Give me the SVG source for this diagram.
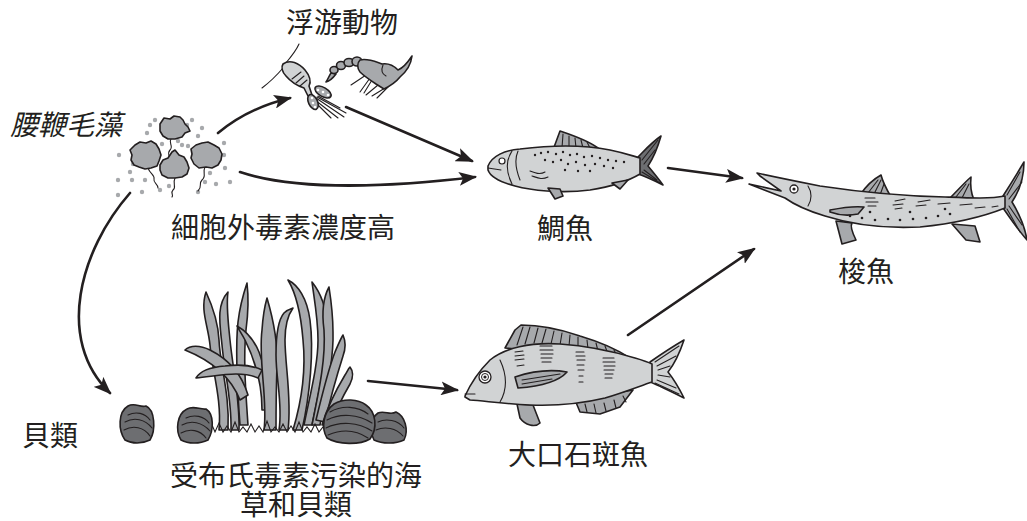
<svg xmlns="http://www.w3.org/2000/svg" width="1027" height="521" viewBox="0 0 1027 521">
<defs>
<style>
.t{font-family:"Noto Sans CJK TC","Noto Sans CJK SC",sans-serif;font-size:28px;fill:#231f20;text-anchor:middle}
.it{font-style:italic;text-anchor:start}
.ln{fill:none;stroke:#231f20;stroke-width:2.6;stroke-linecap:round}
.o{stroke:#231f20;stroke-width:1.6;stroke-linejoin:round}
.lt{fill:#d1d3d4}
.md{fill:#a7a9ac}
.dk{fill:#6d6e71}
.h{fill:none;stroke:#231f20;stroke-width:1.1;stroke-linecap:round}
.dot{fill:#a7a9ac}
.sp{fill:#231f20}
</style>
<marker id="ah" markerWidth="18" markerHeight="14" refX="16" refY="7" orient="auto" markerUnits="userSpaceOnUse">
<path d="M0,0 L18,7 L0,14 L4,7 Z" fill="#231f20"/>
</marker>
</defs>
<rect width="1027" height="521" fill="#ffffff"/>

<g id="connectors">
<path class="ln" d="M218,133 Q248,108 290,98" marker-end="url(#ah)"/>
<path class="ln" d="M346,107 L472,161" marker-end="url(#ah)"/>
<path class="ln" d="M240,172 C300,192 400,186 475,177" marker-end="url(#ah)"/>
<path class="ln" d="M130,193 C80,250 55,340 110,393" marker-end="url(#ah)"/>
<path class="ln" d="M368,381 L457,390" marker-end="url(#ah)"/>
<path class="ln" d="M668,168 L742,178" marker-end="url(#ah)"/>
<path class="ln" d="M628,335 L754,249" marker-end="url(#ah)"/>
</g>

<g id="dinoflagellates">
<g class="dot">
<circle cx="150" cy="125" r="2.2"/><circle cx="155" cy="120" r="2.2"/><circle cx="147" cy="133" r="2.2"/>
<circle cx="192" cy="120" r="2.2"/><circle cx="202" cy="128" r="2.2"/><circle cx="198" cy="136" r="2.2"/>
<circle cx="188" cy="146" r="2.2"/><circle cx="182" cy="145" r="2.2"/><circle cx="162" cy="144" r="2.2"/>
<circle cx="224" cy="143" r="2.2"/><circle cx="119" cy="155" r="2.2"/><circle cx="130" cy="172" r="2.2"/>
<circle cx="132" cy="180" r="2.2"/><circle cx="145" cy="180" r="2.2"/><circle cx="118" cy="180" r="2.2"/>
<circle cx="118" cy="195" r="2.2"/><circle cx="142" cy="192" r="2.2"/><circle cx="169" cy="186" r="2.2"/>
<circle cx="210" cy="173" r="2.2"/><circle cx="216" cy="184" r="2.2"/><circle cx="230" cy="182" r="2.2"/>
<circle cx="225" cy="168" r="2.2"/><circle cx="205" cy="182" r="2.2"/><circle cx="198" cy="192" r="2.2"/>
<circle cx="178" cy="141" r="2.2"/><circle cx="133" cy="164" r="2.2"/><circle cx="187" cy="125" r="2.2"/>
<circle cx="224" cy="155" r="2.2"/><circle cx="160" cy="190" r="2.2"/>
</g>
<path class="h" d="M171,139 C168,143 174,146 170,150 C166,154 172,157 168,162"/>
<path class="h" d="M148,168 C150,174 155,175 154,179 C153,183 158,184 158,188"/>
<path class="h" d="M175,178 C172,184 177,187 173,190 C170,193 174,195 172,197"/>
<path class="h" d="M205,167 C202,173 207,176 202,180 C198,184 203,186 198,191"/>
<path class="md o" d="M160,124 L164,118 L170,119 L174,116 L180,117 L183,120 L185,124 L188,127 L190,131 L185,133 L182,137 L175,139 L168,139 L163,136 L160,131 Z"/>
<path class="md o" d="M130,150 L135,145 L140,142 L146,143 L151,141 L156,144 L159,149 L161,155 L159,161 L157,166 L151,168 L145,169 L139,167 L134,165 L131,160 L132,155 Z"/>
<path class="md o" d="M191,149 L196,145 L202,143 L208,142 L214,145 L219,148 L222,154 L221,160 L218,165 L212,168 L206,167 L199,168 L194,164 L191,158 L192,154 Z"/>
<path class="md o" d="M160,165 L163,160 L168,158 L172,152 L175,150 L179,155 L184,157 L187,162 L189,168 L187,174 L182,177 L175,178 L168,178 L162,175 L160,170 Z"/>
</g>

<g id="zooplankton">
<path class="h" d="M285,64 C291,57 296,51 299,44"/>
<path class="h" d="M283,68 C277,75 270,82 262,88"/>
<path class="h" d="M316,98 L344,117 M317,97 L346,113 M315,100 L338,118 M314,101 L331,118 M318,96 L340,108"/>
<path class="lt o" d="M283,64 C290,59 299,63 305,70 C310,76 311,82 309,86 L312,95 L308,96 L304,88 C298,86 291,82 286,76 C282,72 281,67 283,64 Z"/>
<path class="h" d="M292,79 L301,72 M296,83 L304,76 M300,86 L307,80"/>
<ellipse class="md o" cx="323" cy="92" rx="9" ry="4.5" transform="rotate(30 323 92)"/>
<ellipse class="md o" cx="313" cy="102" rx="4.5" ry="8" transform="rotate(-25 313 102)"/>
<g fill="#ffffff"><circle cx="318" cy="90" r="1.3"/><circle cx="323" cy="92" r="1.3"/><circle cx="328" cy="95" r="1.3"/><circle cx="312" cy="98" r="1.3"/><circle cx="313" cy="103" r="1.3"/><circle cx="315" cy="107" r="1.3"/></g>
<path class="h" d="M370,78 L360,92 M366,75 L351,85 M372,80 L364,93 M378,85 L366,95 M385,88 L372,96 M388,87 L377,98"/>
<path class="md o" d="M331,73 C329,76 328,79 326,82 C330,81 333,78 336,74 Z"/>
<ellipse class="md o" cx="334" cy="70" rx="4" ry="3.5"/>
<ellipse class="md o" cx="341" cy="65.5" rx="4.5" ry="4"/>
<ellipse class="md o" cx="349" cy="62.5" rx="5" ry="4"/>
<ellipse class="md o" cx="357" cy="61.5" rx="5" ry="4.5"/>
<path class="md o" d="M360,60 C368,58 376,62 382,64 C388,63 394,66 398,70 C403,68 408,62 412,56 C411,64 406,72 400,77 C396,82 390,86 384,89 L376,84 C370,80 364,76 360,72 C357,68 357,63 360,60 Z"/>
<path class="h" d="M383,65 C381,70 382,74 386,76"/>
</g>

<g id="sea-bream">
<path class="md o" d="M553,150 L560,131 C575,136 590,142 598,148 Z"/>
<path class="h" d="M563,134 L562,148 M569,136 L569,148 M575,138 L576,148 M581,140 L583,148 M587,142 L590,148"/>
<path class="dk o" d="M638,157 C645,150 652,142 661,136 C657,150 652,160 648,166 C653,172 658,178 663,185 C653,180 644,176 638,174 Z"/>
<path class="h" d="M642,160 L658,140 M644,164 L655,150 M644,170 L657,180 M642,172 L660,183"/>
<path class="lt o" d="M488,166 C492,156 505,150 520,149 C545,146 580,144 610,150 C625,153 633,156 640,158 L640,174 C630,180 615,186 590,190 C560,194 530,190 515,186 C500,182 490,176 488,170 Z"/>
<path class="md o" d="M548,188 L555,199 L563,196 L560,189 Z"/>
<path class="md o" d="M612,183 L620,189 L628,180 Z"/>
<path class="h" d="M488,168 L501,170 M512,151 C506,160 506,172 512,184 M518,151 C514,160 516,170 520,180 M530,171 C535,173 540,175 545,172 M532,176 C538,178 542,180 548,177"/>
<circle cx="502" cy="161" r="3" fill="#ffffff" stroke="#231f20" stroke-width="1.2"/>
<g class="sp">
<circle cx="535" cy="155" r="1.2"/><circle cx="541" cy="153" r="1.2"/><circle cx="548" cy="152" r="1.2"/><circle cx="556" cy="154" r="1.2"/><circle cx="563" cy="152" r="1.2"/><circle cx="570" cy="155" r="1.2"/><circle cx="577" cy="154" r="1.2"/><circle cx="584" cy="157" r="1.2"/><circle cx="592" cy="156" r="1.2"/><circle cx="600" cy="158" r="1.2"/><circle cx="608" cy="160" r="1.2"/><circle cx="616" cy="161" r="1.2"/><circle cx="624" cy="162" r="1.2"/>
<circle cx="545" cy="160" r="1.2"/><circle cx="553" cy="162" r="1.2"/><circle cx="561" cy="160" r="1.2"/><circle cx="568" cy="164" r="1.2"/><circle cx="576" cy="162" r="1.2"/><circle cx="585" cy="165" r="1.2"/><circle cx="595" cy="164" r="1.2"/><circle cx="604" cy="166" r="1.2"/><circle cx="613" cy="168" r="1.2"/><circle cx="565" cy="170" r="1.2"/><circle cx="578" cy="171" r="1.2"/><circle cx="590" cy="171" r="1.2"/>
</g>
</g>

<g id="barracuda">
<path class="md o" d="M860,195 C866,186 872,180 881,175 C883,183 887,190 891,197 Z"/>
<path class="md o" d="M950,198 C958,190 964,183 971,177 C970,186 971,193 974,200 Z"/>
<path class="h" d="M868,193 L878,180 M874,194 L881,180 M880,195 L884,184 M956,197 L966,184 M962,198 L969,184"/>
<path class="md o" d="M1003,196 C1010,185 1018,172 1024,162 C1024,175 1020,190 1012,202 C1020,215 1025,228 1027,240 C1018,230 1010,218 1003,208 Z"/>
<path class="h" d="M1007,195 L1020,172 M1009,199 L1022,182 M1009,206 L1022,225 M1007,209 L1020,232"/>
<path class="md o" d="M836,221 L842,244 L856,240 C852,232 850,226 852,223 Z"/>
<path class="md o" d="M952,224 L966,240 L980,242 L975,226 Z"/>
<path class="lt o" d="M757,173 C780,178 800,182 820,186 C860,192 900,196 945,197 C970,198 990,199 1005,196 L1005,208 C985,216 960,223 920,227 C880,229 850,224 825,216 C805,210 792,203 785,198 L749,184 L781,191 L760,176 Z"/>
<path class="md o" d="M830,210 C845,207 855,206 864,207 L858,214 C848,216 838,215 830,212 Z"/>
<circle cx="794" cy="189" r="4" fill="#ffffff" stroke="#231f20" stroke-width="1.3"/>
<circle cx="794" cy="189" r="1.6" fill="#231f20"/>
<path class="h" d="M808,186 C812,192 812,200 808,206"/>
<path class="h" d="M865,198 L875,198 M866,202 L878,202 M868,206 L876,206 M895,201 L905,199 M893,205 L903,204 M895,209 L902,208 M918,202 L930,200 M916,206 L926,205 M938,204 L950,203 M960,205 L972,204 M975,208 L985,207 M992,207 L998,206"/>
<g class="sp">
<circle cx="850" cy="216" r="1.3"/><circle cx="862" cy="218" r="1.3"/><circle cx="875" cy="220" r="1.3"/><circle cx="888" cy="219" r="1.3"/><circle cx="900" cy="220" r="1.3"/><circle cx="913" cy="219" r="1.3"/><circle cx="926" cy="218" r="1.3"/><circle cx="938" cy="216" r="1.3"/><circle cx="950" cy="214" r="1.3"/><circle cx="870" cy="212" r="1.3"/><circle cx="910" cy="212" r="1.3"/><circle cx="945" cy="209" r="1.3"/>
</g>
</g>

<g id="grouper">
<path class="md o" d="M505,348 L515,330 L521,325 C540,325 560,329 580,336 C600,342 615,348 630,358 Z"/>
<path class="h" d="M523,327 L517,345 M530,327 L525,344 M538,328 L534,343 M546,329 L542,343 M554,331 L551,344 M562,333 L560,345 M570,335 L569,346 M578,337 L578,347 M587,340 L588,349 M596,343 L598,351 M605,346 L608,354 M614,350 L617,356"/>
<path class="lt o" d="M650,362 C660,355 672,347 684,340 C680,352 676,362 668,372 C676,382 680,390 684,398 C672,392 660,386 650,382 Z"/>
<path class="h" d="M655,362 L679,346 M657,366 L676,356 M658,370 L670,366 M658,375 L670,377 M657,380 L676,388 M655,383 L679,394"/>
<path class="md o" d="M575,400 L580,412 L600,414 L620,407 L633,390 Z"/>
<path class="h" d="M585,404 L587,412 M594,404 L596,413 M604,403 L606,411 M614,400 L616,408 M623,396 L626,402"/>
<path class="md o" d="M517,404 L520,418 C525,425 535,428 540,423 L533,405 Z"/>
<path class="lt o" d="M465,396 C470,385 478,372 490,360 C505,348 530,342 560,344 C590,346 615,352 635,358 C642,360 648,362 652,364 L652,382 C640,386 625,392 605,398 C580,404 555,406 530,405 C505,404 485,401 470,400 L465,397 Z"/>
<path class="md o" d="M515,377 C530,372 550,369 567,372 C560,380 545,386 518,388 Z"/>
<path class="h" d="M522,380 L560,374 M522,384 L552,379"/>
<path class="h" d="M465,394 L475,394 M500,360 C507,375 507,390 500,402"/>
<circle cx="485" cy="377" r="6" fill="#ffffff" stroke="#231f20" stroke-width="1.3"/>
<circle cx="485" cy="377" r="3.5" fill="none" stroke="#231f20" stroke-width="1"/>
<circle cx="485" cy="377" r="1.6" fill="#231f20"/>
<path class="h" d="M515,352 L523,351 M515,356 L524,355 M515,360 L524,359 M517,366 L524,365 M540,346 L552,346 M540,350 L553,350 M541,354 L553,354 M541,358 L552,358 M542,362 L551,362 M576,352 L584,352 M576,356 L585,356 M577,360 L585,360 M577,365 L584,365 M578,370 L584,370 M579,376 L583,376 M579,382 L583,382 M603,358 L614,358 M603,362 L615,362 M604,366 L615,366 M604,370 L614,370 M605,374 L613,374 M605,378 L612,378"/>
</g>

<g id="seagrass-shellfish">
<g class="md o">
<path d="M219,430 C222,400 212,370 210,345 C208,325 200,310 206,292 C212,305 218,320 219,340 C220,365 230,395 228,430 Z"/>
<path d="M231,430 C232,400 224,370 222,345 C220,325 216,305 228,292 C226,305 228,320 230,340 C233,370 240,400 239,430 Z"/>
<path d="M240,425 C237,385 235,350 238,322 C240,305 244,292 247,283 C249,300 248,315 246,330 C243,360 246,395 248,425 Z"/>
<path d="M240,400 C232,380 215,362 185,350 C190,345 200,345 210,350 C230,360 242,375 248,395 Z"/>
<path d="M262,410 C262,385 255,360 245,340 C242,334 239,330 237,326 C246,331 254,340 259,352 C266,370 270,390 270,410 Z"/>
<path d="M258,378 C240,370 218,376 196,378 C200,371 212,367 225,366 C240,364 252,365 262,370 Z"/>
<path d="M264,430 C268,400 258,360 262,330 C263,315 265,305 267,298 C272,315 278,340 277,365 C276,395 276,415 276,430 Z"/>
<path d="M279,430 C283,405 276,380 276,355 C276,335 278,320 284,313 C287,310 290,309 293,308 C288,315 285,325 285,340 C285,365 292,400 288,430 Z"/>
<path d="M293,430 C302,400 306,370 303,340 C301,315 297,295 288,280 C298,285 307,298 310,320 C314,350 310,395 302,430 Z"/>
<path d="M304,425 C310,395 318,365 318,340 C318,318 314,298 312,282 C320,292 326,305 327,325 C328,355 318,395 312,425 Z"/>
<path d="M312,425 C318,395 326,360 324,330 C322,315 322,300 329,287 C331,300 333,315 333,332 C334,360 325,398 320,425 Z"/>
<path d="M316,420 C322,395 328,370 335,352 C338,345 340,340 343,335 C346,342 346,348 343,356 C337,375 330,400 325,422 Z"/>
<path d="M322,425 C328,405 336,390 345,375 C347,372 348,369 350,367 C354,372 353,378 350,384 C343,396 336,410 331,425 Z"/>
</g>
<path class="h" d="M208,432 L212,425 L215,432 L219,423 L223,432 L227,426 L231,432 L235,422 L239,432 L243,427 L247,432 L251,424 L255,432 L259,426 L263,432 L267,421 L271,432 L275,427 L279,432 L283,424 L287,432 L291,426 L295,432 L299,422 L303,432 L307,427 L311,432 L315,424 L319,432 L323,427 L327,432"/>
<g class="dk o">
<path d="M125,440 C118,430 118,412 128,406 C135,402 140,408 146,406 C155,410 156,430 150,440 C142,444 132,444 125,440 Z"/>
<path d="M181,440 C175,430 177,414 187,409 C194,405 200,410 206,409 C214,414 214,430 208,440 C200,444 188,444 181,440 Z"/>
<path d="M374,440 C369,430 371,418 378,413 C385,410 390,416 396,412 C405,416 409,430 404,440 C396,444 382,444 374,440 Z"/>
<path d="M327,438 C321,428 323,412 334,404 C344,398 358,399 366,405 C376,412 378,428 370,439 C360,445 338,445 327,438 Z"/>
</g>
<path class="h" d="M128,415 C136,411 145,413 150,420 M125,422 C134,417 145,419 152,428 M124,430 C133,425 144,427 150,436 M186,418 C194,414 204,416 209,423 M182,425 C191,420 202,422 210,431 M181,433 C190,428 200,430 206,438 M378,422 C386,418 398,420 404,428 M376,430 C385,426 396,428 403,436 M330,412 C342,405 358,406 368,414 M327,420 C340,413 358,414 372,423 M326,428 C340,421 358,422 372,431 M328,435 C342,429 356,430 368,438"/>
</g>

<g id="labels">
<text class="t" x="342" y="33">浮游動物</text>
<text class="t it" x="10" y="135">腰鞭毛藻</text>
<text class="t" x="283" y="238">細胞外毒素濃度高</text>
<text class="t" x="565" y="239">鯛魚</text>
<text class="t" x="866" y="282">梭魚</text>
<text class="t" x="50" y="446">貝類</text>
<text class="t" x="578" y="465">大口石斑魚</text>
<text class="t"><tspan x="296" y="486">受布氏毒素污染的海</tspan><tspan x="296" y="515">草和貝類</tspan></text>
</g>
</svg>
